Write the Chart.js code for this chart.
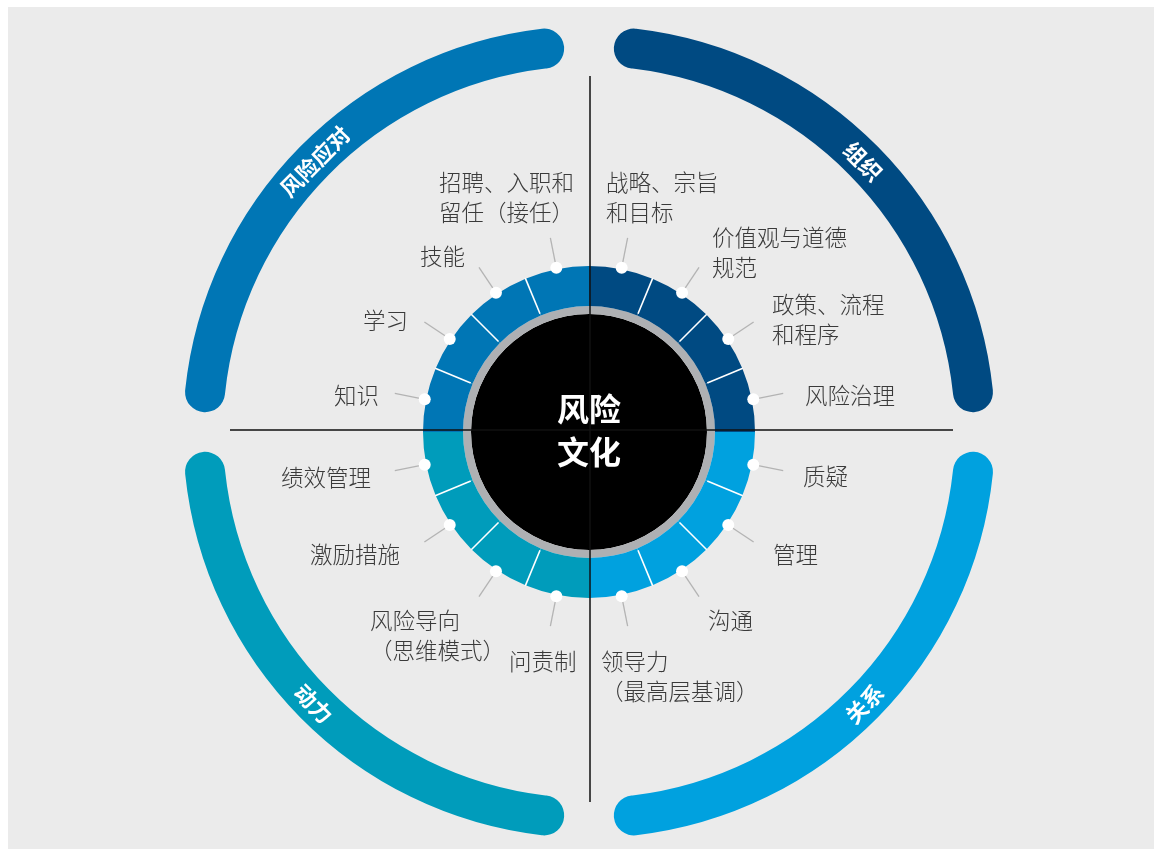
<!DOCTYPE html>
<html>
<head>
<meta charset="utf-8">
<script src="https://cdn.jsdelivr.net/npm/chart.js@4.4.1/dist/chart.umd.min.js"></script>
<style>
html,body{margin:0;padding:0;background:#ffffff;}
#wrap{position:absolute;left:0;top:0;width:1161px;height:856px;overflow:hidden;}
#bg{position:absolute;left:8px;top:7px;width:1146px;height:842px;background:#ebebeb;}
#c{position:absolute;left:0;top:0;}
</style>
</head>
<body>
<div id="wrap"><div id="bg"></div><canvas id="c" width="1161" height="856"></canvas></div>
<script>
// ---------- data ----------
const quadrantNames = ['组织', '关系', '动力', '风险应对'];
const quadrantArcDegrees = [83.3, 83.3, 83.3, 83.3];
const quadrantGapDegrees = [5.9, 7.4, 5.9, 7.4];
const elementLabels = [
  '战略、宗旨\n和目标', '价值观与道德\n规范', '政策、流程\n和程序', '风险治理',
  '质疑', '管理', '沟通', '领导力\n（最高层基调）',
  '问责制', '风险导向\n（思维模式）', '激励措施', '绩效管理',
  '知识', '学习', '技能', '招聘、入职和\n留任（接任）'
];
const elementValues = [1, 1, 1, 1, 1, 1, 1, 1, 1, 1, 1, 1, 1, 1, 1, 1];
const centerTitle = ['风险', '文化'];

// ---------- layout & style ----------
const quadrantColors = ['#004a82', '#00a1df', '#009cbb', '#0076b5'];
// left x / first-line middle y of each element label
const labelLayout = [
  [606, 182], [712, 237], [772, 304], [805, 395],
  [803, 476], [773, 554], [708, 620], [601, 661],
  [509, 661], [370, 620], [310, 554], [281, 477],
  [334, 395], [363, 320], [420, 256], [439, 182]
];

// outer arc ring: leading half gap, arcs and gaps, trailing half gap
const outerData = [quadrantGapDegrees[3] / 2];
const outerColors = ['rgba(0,0,0,0)'];
for (let q = 0; q < 4; q++) {
  outerData.push(quadrantArcDegrees[q]);
  outerColors.push(quadrantColors[q]);
  outerData.push(q < 3 ? quadrantGapDegrees[q] : quadrantGapDegrees[3] / 2);
  outerColors.push('rgba(0,0,0,0)');
}
const ringColors = elementValues.map((v, i) => quadrantColors[Math.floor(i / 4)]);

const overlay = {
  id: 'overlay',
  afterDatasetsDraw(chart) {
    const ctx = chart.ctx;
    const ringMeta = chart.getDatasetMeta(2);
    const arcMeta = chart.getDatasetMeta(0);
    const first = ringMeta.data[0];
    const cx = first.x, cy = first.y;
    const rOut = first.outerRadius, rIn = first.innerRadius;
    const pt = (a, r) => [cx + r * Math.cos(a), cy + r * Math.sin(a)];
    ctx.save();

    // white dividers between elements inside each quadrant
    ctx.strokeStyle = '#ffffff';
    ctx.lineWidth = 1.6;
    ringMeta.data.forEach((el, i) => {
      if (i % 4 === 0) return;
      const p1 = pt(el.startAngle, rIn + 2), p2 = pt(el.startAngle, rOut + 0.5);
      ctx.beginPath(); ctx.moveTo(p1[0], p1[1]); ctx.lineTo(p2[0], p2[1]); ctx.stroke();
    });

    // cross lines
    ctx.strokeStyle = '#111111';
    ctx.lineWidth = 1.5;
    ctx.beginPath();
    ctx.moveTo(cx + 1, cy - 356); ctx.lineTo(cx + 1, cy + 370);
    ctx.moveTo(cx - 359, cy - 2); ctx.lineTo(cx + 364, cy - 2);
    ctx.stroke();

    // leader lines, dots and labels
    ctx.font = '300 22.5px "Noto Sans CJK SC", "Noto Sans", sans-serif';
    ctx.textBaseline = 'middle';
    ctx.textAlign = 'left';
    ringMeta.data.forEach((el, i) => {
      const a = (el.startAngle + el.endAngle) / 2;
      const p1 = pt(a, rOut + 4), p2 = pt(a, rOut + 32);
      ctx.strokeStyle = '#b3b3b3';
      ctx.lineWidth = 1.3;
      ctx.beginPath(); ctx.moveTo(p1[0], p1[1]); ctx.lineTo(p2[0], p2[1]); ctx.stroke();
      const d = pt(a, rOut + 1.5);
      ctx.fillStyle = '#ffffff';
      ctx.beginPath(); ctx.arc(d[0], d[1], 6, 0, Math.PI * 2); ctx.fill();
      ctx.fillStyle = '#3a3a3a';
      const [lx, ly] = labelLayout[i];
      elementLabels[i].split('\n').forEach((line, k) => ctx.fillText(line, lx, ly + k * 30.5));
    });

    // quadrant names along outer arcs
    ctx.fillStyle = '#ffffff';
    ctx.font = 'bold 22px "Noto Sans CJK SC", sans-serif';
    ctx.textAlign = 'center';
    let q = 0;
    arcMeta.data.forEach((el, i) => {
      if (i % 2 === 0) return;
      const a = (el.startAngle + el.endAngle) / 2;
      const r = (el.innerRadius + el.outerRadius) / 2;
      const p = pt(a, r);
      const rot = Math.sin(a) > 0 ? a - Math.PI / 2 : a + Math.PI / 2;
      ctx.save();
      ctx.translate(p[0], p[1]);
      ctx.rotate(rot);
      ctx.fillText(quadrantNames[q], 0, 1);
      ctx.restore();
      q++;
    });

    // center title
    ctx.font = 'bold 32px "Noto Sans CJK SC", sans-serif';
    ctx.fillText(centerTitle[0], cx, cy - 23);
    ctx.fillText(centerTitle[1], cx, cy + 20);
    ctx.restore();
  }
};

new Chart(document.getElementById('c'), {
  type: 'doughnut',
  data: {
    labels: outerData.map((v, i) => 'o' + i),
    datasets: [
      { data: outerData, backgroundColor: outerColors, borderWidth: 0,
        borderRadius: (c) => (c.dataIndex % 2 === 1 ? 20 : 0), weight: 40 },
      { data: [1], backgroundColor: 'rgba(0,0,0,0)', borderWidth: 0, weight: 200 },
      { data: elementValues, backgroundColor: ringColors, borderWidth: 0, weight: 40 },
      { data: [1], backgroundColor: '#aeb0b3', borderWidth: 0, weight: 8 },
      { data: [1], backgroundColor: '#000000', borderWidth: 0, weight: 118 }
    ]
  },
  options: {
    responsive: false,
    animation: false,
    events: [],
    cutout: 0,
    layout: { padding: { left: 183, right: 166, top: 26, bottom: 18 } },
    plugins: { legend: { display: false }, tooltip: { enabled: false } }
  },
  plugins: [overlay]
});
</script>
</body>
</html>
